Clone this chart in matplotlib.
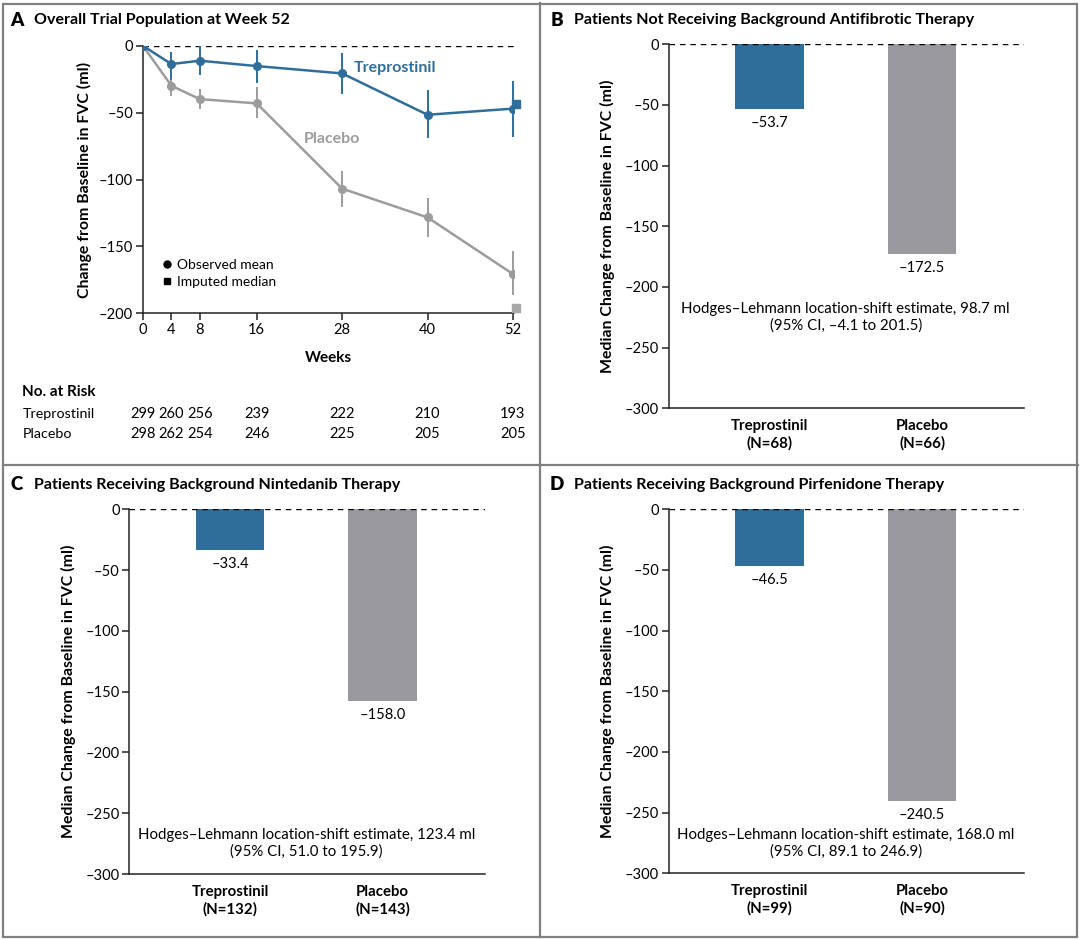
import numpy as np
import matplotlib
matplotlib.use("Agg")
import matplotlib.pyplot as plt
from matplotlib.lines import Line2D
from matplotlib.patches import Rectangle
import matplotlib.transforms as mtransforms

plt.rcParams['font.family'] = ['Lato', 'DejaVu Sans']

# ---- data ----
weeks = [0, 4, 8, 16, 28, 40, 52]
trep_mean = [0, -13.7, -11.2, -15.2, -20.7, -51.6, -47.0]
trep_lo = [0, -25.7, -21.9, -27.6, -36.4, -69.0, -68.0]
trep_hi = [0, -4.5, 0.0, -3.2, -5.7, -33.0, -26.4]
plac_mean = [0, -29.9, -39.9, -43.1, -106.8, -128.3, -170.6]
plac_lo = [0, -37.4, -47.6, -54.3, -120.3, -142.7, -186.3]
plac_hi = [0, -25.0, -32.0, -31.0, -93.6, -113.8, -153.4]
trep_imputed = -43.6
plac_imputed = -196.3
imputed_week = 52.45

risk_trep = [299, 260, 256, 239, 222, 210, 193]
risk_plac = [298, 262, 254, 246, 225, 205, 205]

groups = ['Treprostinil', 'Placebo']
panel_b_vals = [-53.7, -172.5]
panel_b_n = [68, 66]
panel_c_vals = [-33.4, -158.0]
panel_c_n = [132, 143]
panel_d_vals = [-46.5, -240.5]
panel_d_n = [99, 90]
hl_b = "Hodges\u2013Lehmann location-shift estimate, 98.7 ml\n(95% CI, \u20134.1 to 201.5)"
hl_c = "Hodges\u2013Lehmann location-shift estimate, 123.4 ml\n(95% CI, 51.0 to 195.9)"
hl_d = "Hodges\u2013Lehmann location-shift estimate, 168.0 ml\n(95% CI, 89.1 to 246.9)"

BLUE = '#2f6e9a'
GRAY = '#9a9a9e'
LGRAY = '#9c9c9c'
SPINE = '#222222'


def dash(v):
    return ('\u2013' + str(abs(v))) if v < 0 else str(v)


def style_axis(ax, yticks):
    for s in ['top', 'right']:
        ax.spines[s].set_visible(False)
    for s in ['left', 'bottom']:
        ax.spines[s].set_color(SPINE)
        ax.spines[s].set_linewidth(1.1)
    ax.set_yticks(yticks)
    ax.set_yticklabels([dash(t) for t in yticks], fontsize=10.5)
    ax.tick_params(axis='both', direction='out', length=5, width=1.1, color=SPINE, pad=2,
                   labelcolor='black')


def bar_panel(ax, vals, ns, hl_text, hl_y):
    x = np.arange(len(vals))
    ax.bar(x, vals, width=0.45, color=[BLUE, GRAY], zorder=2)
    ax.axhline(0, color='black', lw=1.0, ls=(0, (4, 3.5)), zorder=3)
    ax.set_xlim(-0.66, 1.668)
    ax.set_ylim(-300, 0)
    style_axis(ax, list(range(0, -301, -50)))
    ax.set_xticks(x)
    ax.set_xticklabels([g + '\n(N=' + str(n) + ')' for g, n in zip(groups, ns)],
                       fontsize=10.8, fontweight='bold', linespacing=1.25)
    ax.tick_params(axis='x', length=0, pad=8)
    for xi, v in zip(x, vals):
        ax.annotate(dash(v), (xi, v), xytext=(0, -5), textcoords='offset points',
                    ha='center', va='top', fontsize=10.5)
    ax.text(0.5, hl_y, hl_text, ha='center', va='center', fontsize=10.8, linespacing=1.2)
    ax.set_ylabel('Median Change from Baseline in FVC (ml)', fontsize=11.4, fontweight='bold',
                  labelpad=7)


fig = plt.figure(figsize=(10.8, 9.39), dpi=100)

# ---- panel A ----
axA = fig.add_axes([0.1323, 0.6663, 0.3436, 0.285])
axA.axhline(0, color='black', lw=1.0, ls=(0, (4, 3.5)), zorder=1)
axA.vlines(weeks, plac_lo, plac_hi, color=LGRAY, lw=1.4, zorder=2)
axA.plot(weeks, plac_mean, color=LGRAY, lw=1.8, marker='o', ms=5.5, zorder=3)
axA.vlines(weeks, trep_lo, trep_hi, color=BLUE, lw=1.4, zorder=4)
axA.plot(weeks, trep_mean, color=BLUE, lw=1.8, marker='o', ms=5.5, zorder=5)
axA.plot([imputed_week], [trep_imputed], marker='s', ms=5.5, color=BLUE, ls='none',
         clip_on=False, zorder=5)
axA.plot([imputed_week], [plac_imputed], marker='s', ms=5.5, color='#a8a8a8', ls='none',
         clip_on=False, zorder=5)
axA.set_xlim(0, 52.15)
axA.set_ylim(-200, 0)
style_axis(axA, [0, -50, -100, -150, -200])
axA.set_xticks(weeks)
axA.set_xticklabels([str(w) for w in weeks], fontsize=10.5)
axA.set_xlabel('Weeks', fontsize=11, fontweight='bold', labelpad=10)
axA.set_ylabel('Change from Baseline in FVC (ml)', fontsize=11.4, fontweight='bold', labelpad=5)
axA.text(35.4, -17, 'Treprostinil', color=BLUE, fontsize=11.5, fontweight='bold',
         ha='center', va='center')
axA.text(26.5, -70, 'Placebo', color=LGRAY, fontsize=11.5, fontweight='bold',
         ha='center', va='center')
handles = [Line2D([], [], marker='o', color='black', ls='none', ms=5),
           Line2D([], [], marker='s', color='black', ls='none', ms=5)]
axA.legend(handles, ['Observed mean', 'Imputed median'], loc='upper left',
           bbox_to_anchor=(0.025, 0.225), frameon=False, fontsize=10,
           handletextpad=0.1, handlelength=1.3, labelspacing=0.4, borderaxespad=0)

# number at risk
trans = mtransforms.blended_transform_factory(axA.transData, fig.transFigure)
fig.text(22.4 / 1080, 1 - 392 / 939, 'No. at Risk', fontsize=11, fontweight='bold',
         va='center', ha='left')
fig.text(22.4 / 1080, 1 - 414 / 939, 'Treprostinil', fontsize=10.3, va='center', ha='left')
fig.text(22.4 / 1080, 1 - 434.5 / 939, 'Placebo', fontsize=10.3, va='center', ha='left')
for w, rt, rp in zip(weeks, risk_trep, risk_plac):
    axA.text(w, 1 - 414 / 939, str(rt), transform=trans, fontsize=10.5, ha='center', va='center')
    axA.text(w, 1 - 434.5 / 939, str(rp), transform=trans, fontsize=10.5, ha='center', va='center')

# ---- panels B, C, D ----
axB = fig.add_axes([0.6193, 0.5652, 0.3288, 0.3877])
bar_panel(axB, panel_b_vals, panel_b_n, hl_b, -225)
axC = fig.add_axes([0.1199, 0.0692, 0.3288, 0.3884])
bar_panel(axC, panel_c_vals, panel_c_n, hl_c, -275)
axD = fig.add_axes([0.6193, 0.0700, 0.3288, 0.3877])
bar_panel(axD, panel_d_vals, panel_d_n, hl_d, -275)

# ---- panel titles ----
titles = [('A', 'Overall Trial Population at Week 52', 10.3, 34.4, 20),
          ('B', 'Patients Not Receiving Background Antifibrotic Therapy', 551, 574.4, 20),
          ('C', 'Patients Receiving Background Nintedanib Therapy', 10.3, 34.4, 485),
          ('D', 'Patients Receiving Background Pirfenidone Therapy', 550, 574.4, 485)]
for letter, title, lx, tx, ty in titles:
    fig.text(lx / 1080, 1 - ty / 939, letter, fontsize=13.5, fontweight='heavy', va='center')
    fig.text(tx / 1080, 1 - ty / 939, title, fontsize=11.5, fontweight='bold', va='center')

# ---- frame and dividers ----
BORDER = '#808080'
fig.add_artist(Rectangle((2.5 / 1080, 2.5 / 939), 1074 / 1080, 933 / 939, fill=False,
                         ec=BORDER, lw=1.6, transform=fig.transFigure))
fig.add_artist(Line2D([539.5 / 1080] * 2, [2.5 / 939, 1 - 2.5 / 939], color=BORDER, lw=1.6,
                      transform=fig.transFigure))
fig.add_artist(Line2D([2.5 / 1080, 1 - 2.5 / 1080], [1 - 465 / 939] * 2, color=BORDER, lw=1.6,
                      transform=fig.transFigure))

fig.savefig('out.png', dpi=100)
